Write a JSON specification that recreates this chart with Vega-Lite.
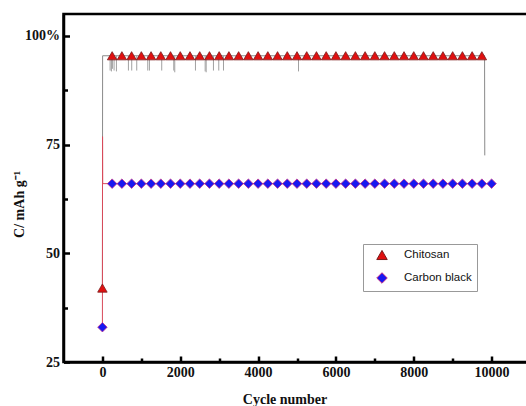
{
"$schema": "https://vega.github.io/schema/vega-lite/v6.json",
"width": 467,
"height": 348,
"autosize": {"type": "none"},
"padding": {"left": 63.5, "top": 14, "right": 0, "bottom": 44},
"background": "white",
"config": {
  "view": {"stroke": "black", "strokeWidth": 2.5},
  "axis": {"domainColor": "black", "domainWidth": 2.5, "tickColor": "black", "tickWidth": 2.5, "grid": false,
           "labelFont": "Liberation Serif", "labelFontWeight": "bold", "labelFontSize": 14, "labelColor": "#111",
           "titleFont": "Liberation Serif", "titleFontWeight": "bold", "titleFontSize": 14, "titleColor": "#111"}
},
"datasets": {
  "curves": [
    {"series": "Chitosan", "cycle": 0, "cap": 42},
    {"series": "Chitosan", "cycle": 5, "cap": 95.4},
    {"series": "Chitosan", "cycle": 9820, "cap": 95.4},
    {"series": "Chitosan", "cycle": 9825, "cap": 72.5},
    {"series": "Carbon black", "cycle": 0, "cap": 33},
    {"series": "Carbon black", "cycle": 3, "cap": 76.8},
    {"series": "Carbon black", "cycle": 8, "cap": 66},
    {"series": "Carbon black", "cycle": 10000, "cap": 66}
  ],
  "spikes": [
    {"cycle": 198, "cap": 95.4, "low": 92.0},
    {"cycle": 231, "cap": 95.4, "low": 91.8},
    {"cycle": 257, "cap": 95.4, "low": 92.4},
    {"cycle": 300, "cap": 95.4, "low": 92.0},
    {"cycle": 360, "cap": 95.4, "low": 91.8},
    {"cycle": 668, "cap": 95.4, "low": 92.0},
    {"cycle": 753, "cap": 95.4, "low": 92.0},
    {"cycle": 882, "cap": 95.4, "low": 92.0},
    {"cycle": 1165, "cap": 95.4, "low": 92.0},
    {"cycle": 1208, "cap": 95.4, "low": 92.0},
    {"cycle": 1524, "cap": 95.4, "low": 92.0},
    {"cycle": 1833, "cap": 95.4, "low": 92.0},
    {"cycle": 1859, "cap": 95.4, "low": 91.6},
    {"cycle": 2391, "cap": 95.4, "low": 92.0},
    {"cycle": 2640, "cap": 95.4, "low": 91.8},
    {"cycle": 2666, "cap": 95.4, "low": 91.6},
    {"cycle": 2853, "cap": 95.4, "low": 92.0},
    {"cycle": 2990, "cap": 95.4, "low": 92.0},
    {"cycle": 3111, "cap": 95.4, "low": 92.0},
    {"cycle": 5039, "cap": 95.4, "low": 91.8}
  ],
  "markers": [
    {"series": "Chitosan", "cycle": 0, "cap": 42},
    {"series": "Chitosan", "cycle": 250, "cap": 95.4},
    {"series": "Chitosan", "cycle": 500, "cap": 95.4},
    {"series": "Chitosan", "cycle": 750, "cap": 95.4},
    {"series": "Chitosan", "cycle": 1000, "cap": 95.4},
    {"series": "Chitosan", "cycle": 1250, "cap": 95.4},
    {"series": "Chitosan", "cycle": 1500, "cap": 95.4},
    {"series": "Chitosan", "cycle": 1750, "cap": 95.4},
    {"series": "Chitosan", "cycle": 2000, "cap": 95.4},
    {"series": "Chitosan", "cycle": 2250, "cap": 95.4},
    {"series": "Chitosan", "cycle": 2500, "cap": 95.4},
    {"series": "Chitosan", "cycle": 2750, "cap": 95.4},
    {"series": "Chitosan", "cycle": 3000, "cap": 95.4},
    {"series": "Chitosan", "cycle": 3250, "cap": 95.4},
    {"series": "Chitosan", "cycle": 3500, "cap": 95.4},
    {"series": "Chitosan", "cycle": 3750, "cap": 95.4},
    {"series": "Chitosan", "cycle": 4000, "cap": 95.4},
    {"series": "Chitosan", "cycle": 4250, "cap": 95.4},
    {"series": "Chitosan", "cycle": 4500, "cap": 95.4},
    {"series": "Chitosan", "cycle": 4750, "cap": 95.4},
    {"series": "Chitosan", "cycle": 5000, "cap": 95.4},
    {"series": "Chitosan", "cycle": 5250, "cap": 95.4},
    {"series": "Chitosan", "cycle": 5500, "cap": 95.4},
    {"series": "Chitosan", "cycle": 5750, "cap": 95.4},
    {"series": "Chitosan", "cycle": 6000, "cap": 95.4},
    {"series": "Chitosan", "cycle": 6250, "cap": 95.4},
    {"series": "Chitosan", "cycle": 6500, "cap": 95.4},
    {"series": "Chitosan", "cycle": 6750, "cap": 95.4},
    {"series": "Chitosan", "cycle": 7000, "cap": 95.4},
    {"series": "Chitosan", "cycle": 7250, "cap": 95.4},
    {"series": "Chitosan", "cycle": 7500, "cap": 95.4},
    {"series": "Chitosan", "cycle": 7750, "cap": 95.4},
    {"series": "Chitosan", "cycle": 8000, "cap": 95.4},
    {"series": "Chitosan", "cycle": 8250, "cap": 95.4},
    {"series": "Chitosan", "cycle": 8500, "cap": 95.4},
    {"series": "Chitosan", "cycle": 8750, "cap": 95.4},
    {"series": "Chitosan", "cycle": 9000, "cap": 95.4},
    {"series": "Chitosan", "cycle": 9250, "cap": 95.4},
    {"series": "Chitosan", "cycle": 9500, "cap": 95.4},
    {"series": "Chitosan", "cycle": 9750, "cap": 95.4},
    {"series": "Carbon black", "cycle": 0, "cap": 33},
    {"series": "Carbon black", "cycle": 250, "cap": 66},
    {"series": "Carbon black", "cycle": 500, "cap": 66},
    {"series": "Carbon black", "cycle": 750, "cap": 66},
    {"series": "Carbon black", "cycle": 1000, "cap": 66},
    {"series": "Carbon black", "cycle": 1250, "cap": 66},
    {"series": "Carbon black", "cycle": 1500, "cap": 66},
    {"series": "Carbon black", "cycle": 1750, "cap": 66},
    {"series": "Carbon black", "cycle": 2000, "cap": 66},
    {"series": "Carbon black", "cycle": 2250, "cap": 66},
    {"series": "Carbon black", "cycle": 2500, "cap": 66},
    {"series": "Carbon black", "cycle": 2750, "cap": 66},
    {"series": "Carbon black", "cycle": 3000, "cap": 66},
    {"series": "Carbon black", "cycle": 3250, "cap": 66},
    {"series": "Carbon black", "cycle": 3500, "cap": 66},
    {"series": "Carbon black", "cycle": 3750, "cap": 66},
    {"series": "Carbon black", "cycle": 4000, "cap": 66},
    {"series": "Carbon black", "cycle": 4250, "cap": 66},
    {"series": "Carbon black", "cycle": 4500, "cap": 66},
    {"series": "Carbon black", "cycle": 4750, "cap": 66},
    {"series": "Carbon black", "cycle": 5000, "cap": 66},
    {"series": "Carbon black", "cycle": 5250, "cap": 66},
    {"series": "Carbon black", "cycle": 5500, "cap": 66},
    {"series": "Carbon black", "cycle": 5750, "cap": 66},
    {"series": "Carbon black", "cycle": 6000, "cap": 66},
    {"series": "Carbon black", "cycle": 6250, "cap": 66},
    {"series": "Carbon black", "cycle": 6500, "cap": 66},
    {"series": "Carbon black", "cycle": 6750, "cap": 66},
    {"series": "Carbon black", "cycle": 7000, "cap": 66},
    {"series": "Carbon black", "cycle": 7250, "cap": 66},
    {"series": "Carbon black", "cycle": 7500, "cap": 66},
    {"series": "Carbon black", "cycle": 7750, "cap": 66},
    {"series": "Carbon black", "cycle": 8000, "cap": 66},
    {"series": "Carbon black", "cycle": 8250, "cap": 66},
    {"series": "Carbon black", "cycle": 8500, "cap": 66},
    {"series": "Carbon black", "cycle": 8750, "cap": 66},
    {"series": "Carbon black", "cycle": 9000, "cap": 66},
    {"series": "Carbon black", "cycle": 9250, "cap": 66},
    {"series": "Carbon black", "cycle": 9500, "cap": 66},
    {"series": "Carbon black", "cycle": 9750, "cap": 66},
    {"series": "Carbon black", "cycle": 10000, "cap": 66}
  ]
},
"encoding": {
  "x": {"field": "cycle", "type": "quantitative",
        "scale": {"domain": [-1000, 11000], "nice": false, "zero": false},
        "axis": {"title": "Cycle number", "values": [0,1000,2000,3000,4000,5000,6000,7000,8000,9000,10000],
                 "format": "d", "labelExpr": "datum.value % 2000 === 0 ? datum.label : ''",
                 "tickSize": {"condition": {"test": "datum.value % 2000 === 0", "value": -6}, "value": -4},
                 "labelPadding": 9, "titleX": 221, "titleY": 41, "titleBaseline": "alphabetic"}},
  "y": {"field": "cap", "type": "quantitative",
        "scale": {"domain": [25, 105], "nice": false, "zero": false},
        "axis": {"title": "C/ mAh g\u207b\u00b9", "values": [25, 37.5, 50, 62.5, 75, 87.5, 100],
                 "labelExpr": "datum.value === 100 ? '100%' : (datum.value % 25 === 0 ? datum.label : '')",
                 "tickSize": {"condition": {"test": "datum.value % 25 === 0", "value": -6}, "value": -4},
                 "labelPadding": 10, "titleX": -37, "titleY": 190}}
},
"layer": [
  {"data": {"name": "curves"}, "transform": [{"filter": "datum.series === 'Chitosan'"}],
   "mark": {"type": "line", "color": "#8a8a8a", "strokeWidth": 1}},
  {"data": {"name": "spikes"},
   "mark": {"type": "rule", "color": "#a0a0a0", "strokeWidth": 1},
   "encoding": {"y2": {"field": "low"}}},
  {"data": {"name": "curves"}, "transform": [{"filter": "datum.series === 'Carbon black'"}],
   "mark": {"type": "line", "color": "#d84a5a", "strokeWidth": 1}},
  {"data": {"name": "markers"},
   "mark": {"type": "point", "filled": true, "opacity": 1, "size": 90, "strokeWidth": 0.8},
   "encoding": {
     "shape": {"field": "series", "type": "nominal",
               "scale": {"domain": ["Chitosan", "Carbon black"], "range": ["triangle-up", "diamond"]},
               "legend": {"title": null, "orient": "none", "legendX": 299.5, "legendY": 230,
                          "padding": 5, "strokeColor": "#999", "fillColor": "white",
                          "symbolSize": 110, "symbolOffset": 8, "labelOffset": 16, "rowPadding": 8,
                          "labelFont": "Liberation Sans", "labelFontSize": 11.5, "labelColor": "#111",
                          "symbolStrokeWidth": 1}},
     "fill": {"field": "series", "type": "nominal",
              "scale": {"domain": ["Chitosan", "Carbon black"], "range": ["#e01010", "#1818f0"]}},
     "stroke": {"field": "series", "type": "nominal",
                "scale": {"domain": ["Chitosan", "Carbon black"], "range": ["#7a1a1a", "#c0308a"]}}
   }}
]
}
